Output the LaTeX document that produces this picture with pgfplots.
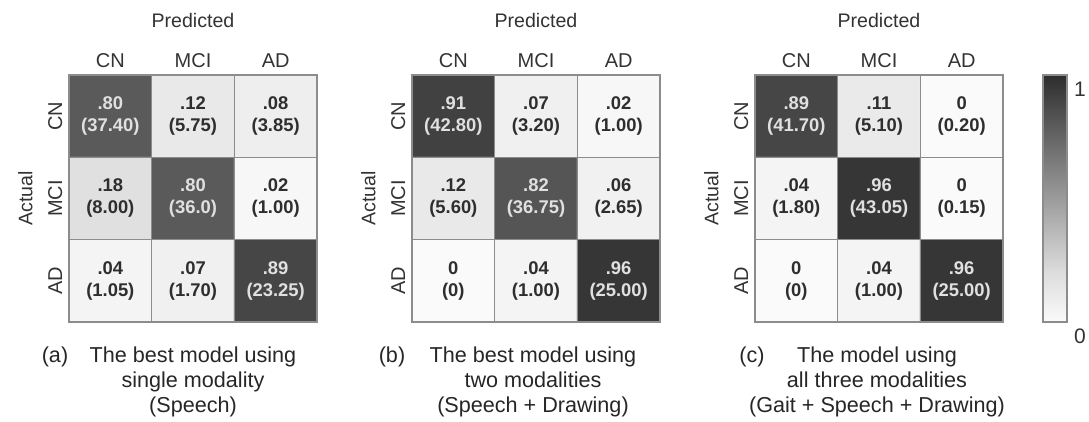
\documentclass[border=0pt]{standalone}
\usepackage{pgfplots}
\pgfplotsset{compat=1.18}
\usepackage{pgfplotstable}
\usepackage{fontspec}
\setmainfont{Liberation Sans}
\definecolor{lt}{gray}{0.88}
\definecolor{dk}{gray}{0.18}
\definecolor{bord}{gray}{0.55}

\pgfplotstableread{
x y v d lab
0 0 0.80 1 {.80\\(37.40)}
1 0 0.12 0 {.12\\(5.75)}
2 0 0.08 0 {.08\\(3.85)}
0 1 0.18 0 {.18\\(8.00)}
1 1 0.80 1 {.80\\(36.0)}
2 1 0.02 0 {.02\\(1.00)}
0 2 0.04 0 {.04\\(1.05)}
1 2 0.07 0 {.07\\(1.70)}
2 2 0.89 1 {.89\\(23.25)}
}\tA
\pgfplotstableread{
x y v d lab
0 0 0.91 1 {.91\\(42.80)}
1 0 0.07 0 {.07\\(3.20)}
2 0 0.02 0 {.02\\(1.00)}
0 1 0.12 0 {.12\\(5.60)}
1 1 0.82 1 {.82\\(36.75)}
2 1 0.06 0 {.06\\(2.65)}
0 2 0.00 0 {0\\(0)}
1 2 0.04 0 {.04\\(1.00)}
2 2 0.96 1 {.96\\(25.00)}
}\tB
\pgfplotstableread{
x y v d lab
0 0 0.89 1 {.89\\(41.70)}
1 0 0.11 0 {.11\\(5.10)}
2 0 0.00 0 {0\\(0.20)}
0 1 0.04 0 {.04\\(1.80)}
1 1 0.96 1 {.96\\(43.05)}
2 1 0.00 0 {0\\(0.15)}
0 2 0.00 0 {0\\(0)}
1 2 0.04 0 {.04\\(1.00)}
2 2 0.96 1 {.96\\(25.00)}
}\tC

\pgfplotsset{
  bwmap/.style={colormap={bw}{rgb255(0cm)=(250,250,250); rgb255(2cm)=(221,221,221); rgb255(8cm)=(90,90,90); rgb255(10cm)=(45,45,45)},
    point meta min=0, point meta max=1},
  cm/.style={
    scale only axis, width=124pt, height=123.5pt,
    xmin=-0.5, xmax=2.5, ymin=-0.5, ymax=2.5,
    enlargelimits=false, y dir=reverse, bwmap,
    xtick={0,1,2}, xticklabels={CN,MCI,AD},
    ytick={0,1,2}, yticklabels={CN,MCI,AD},
    xticklabel pos=upper,
    major tick length=0, minor tick length=0,
    minor xtick={0.5,1.5}, minor ytick={0.5,1.5},
    xminorgrids, yminorgrids,
    minor grid style={color=bord, line width=0.75pt},
    axis line style={color=bord, line width=0.75pt},
    axis on top,
    tick label style={font=\fontsize{10}{12}\selectfont, text=black!80},
    xticklabel style={anchor=base, yshift=3.6pt},
    yticklabel style={xshift=-3.4pt, rotate=90, anchor=base},
    xlabel={Predicted}, ylabel={Actual},
    label style={font=\fontsize{9.8}{12}\selectfont, text=black!80},
    xlabel style={at={(axis description cs:0.5,1.194)}, anchor=base},
    ylabel style={at={(axis description cs:-0.148,0.5)}, anchor=base},
  },
  darkcells/.style={only marks, mark=none, point meta=explicit symbolic,
    nodes near coords={\color{lt}\begin{tabular}{@{}c@{}}\pgfplotspointmeta\end{tabular}},
    nodes near coords align={center},
    every node near coord/.append style={inner sep=0pt, font=\bfseries\fontsize{9.2}{11}\selectfont},
    restrict expr to domain={\thisrow{d}}{0.5:1.5}},
  lightcells/.style={only marks, mark=none, point meta=explicit symbolic,
    nodes near coords={\color{dk}\begin{tabular}{@{}c@{}}\pgfplotspointmeta\end{tabular}},
    nodes near coords align={center},
    every node near coord/.append style={inner sep=0pt, font=\bfseries\fontsize{9.2}{11}\selectfont},
    restrict expr to domain={\thisrow{d}}{-0.5:0.5}},
}

\begin{document}
\begin{tikzpicture}
\path[use as bounding box] (0,0) rectangle (544.5pt,211pt);
\begin{axis}[cm, at={(34.5pt,50pt)}, anchor=south west]
\addplot[matrix plot*, mesh/cols=3, mesh/ordering=x varies, point meta=explicit] table[x=x, y=y, meta=v] {\tA};
\addplot[darkcells] table[x=x, y=y, meta=lab] {\tA};
\addplot[lightcells] table[x=x, y=y, meta=lab] {\tA};
\end{axis}
\begin{axis}[cm, at={(206pt,50pt)}, anchor=south west]
\addplot[matrix plot*, mesh/cols=3, mesh/ordering=x varies, point meta=explicit] table[x=x, y=y, meta=v] {\tB};
\addplot[darkcells] table[x=x, y=y, meta=lab] {\tB};
\addplot[lightcells] table[x=x, y=y, meta=lab] {\tB};
\end{axis}
\begin{axis}[cm, at={(377.5pt,50pt)}, anchor=south west,
  colorbar,
  colorbar style={width=12pt, at={(parent axis.north east)}, anchor=north west, xshift=11.5pt,
    ytick={0,1}, yticklabels={0,1}, major tick length=0,
    axis line style={color=bord, line width=0.6pt},
    yticklabel style={anchor=north west, font=\fontsize{10.5}{12}\selectfont, text=black!80},
    /pgf/number format/assume math mode=true}]
\addplot[matrix plot*, mesh/cols=3, mesh/ordering=x varies, point meta=explicit] table[x=x, y=y, meta=v] {\tC};
\addplot[darkcells] table[x=x, y=y, meta=lab] {\tC};
\addplot[lightcells] table[x=x, y=y, meta=lab] {\tC};
\end{axis}

\begin{scope}[every node/.style={font=\fontsize{10.8}{12.5}\selectfont, text=black!85, anchor=base, inner sep=0pt}]
\node at (27.5pt,29.6pt) {(a)};
\node at (96.5pt,29.6pt) {The best model using};
\node at (96.5pt,17.1pt) {single modality};
\node at (96.5pt,4.6pt) {(Speech)};
\node at (196pt,29.6pt) {(b)};
\node at (266.5pt,29.6pt) {The best model using};
\node at (266.5pt,17.1pt) {two modalities};
\node at (266.5pt,4.6pt) {(Speech + Drawing)};
\node at (376pt,29.6pt) {(c)};
\node at (438.5pt,29.6pt) {The model using};
\node at (438.5pt,17.1pt) {all three modalities};
\node at (438.5pt,4.6pt) {(Gait + Speech + Drawing)};
\end{scope}
\end{tikzpicture}
\end{document}
